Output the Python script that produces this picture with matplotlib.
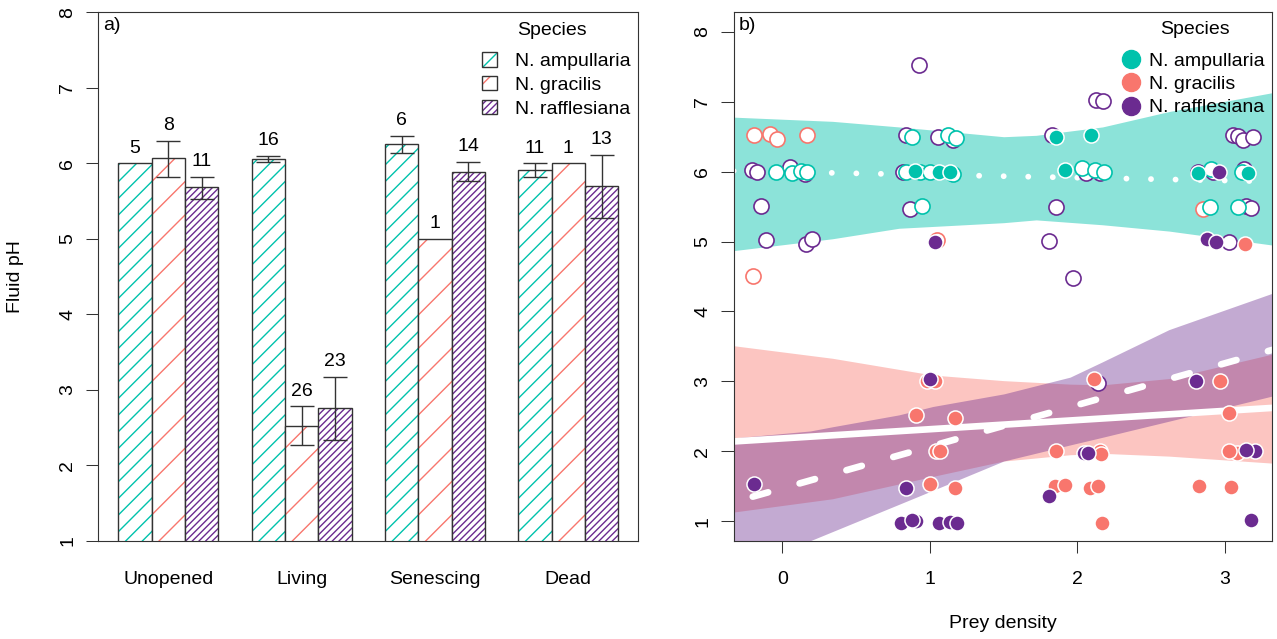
import matplotlib
matplotlib.use('Agg')
import matplotlib.pyplot as plt
from matplotlib.patches import Patch
from matplotlib.lines import Line2D

plt.rcParams['font.family'] = ['Liberation Sans', 'DejaVu Sans']
plt.rcParams['font.size'] = 14
plt.rcParams['hatch.linewidth'] = 1.0

# ---------------- data ----------------
species = ['N. ampullaria', 'N. gracilis', 'N. rafflesiana']
stages = ['Unopened', 'Living', 'Senescing', 'Dead']

# panel a: mean fluid pH per stage, error bar limits (None = no bar), sample sizes
ph_amp = [6.00, 6.06, 6.25, 5.91]
ph_gra = [6.07, 2.52, 5.00, 6.00]
ph_raf = [5.68, 2.76, 5.89, 5.70]
lo_amp = [None, 6.02, 6.14, 5.82]
hi_amp = [None, 6.10, 6.36, 6.00]
lo_gra = [5.82, 2.27, None, None]
hi_gra = [6.30, 2.78, None, None]
lo_raf = [5.53, 2.34, 5.76, 5.28]
hi_raf = [5.82, 3.17, 6.02, 6.11]
n_amp = [5, 16, 6, 11]
n_gra = [8, 26, 1, 1]
n_raf = [11, 23, 14, 13]

# panel b: points (open = non-living pitchers, filled = living pitchers)
amp_open_x = [-0.045, 0.063, 0.129, 0.167, 0.881, 1.122, 1.174, 0.84, 0.93, 0.998, 1.157, 0.946,
              2.033, 2.116, 2.177, 2.907, 3.117, 2.90, 3.087]
amp_open_y = [5.99, 5.98, 6.01, 6.00, 6.49, 6.52, 6.48, 5.99, 6.00, 5.99, 5.97, 5.51,
              6.05, 6.02, 5.99, 6.04, 6.00, 5.50, 5.50]
amp_fill_x = [0.897, 1.062, 1.134, 1.857, 2.094, 1.913, 2.817, 3.155]
amp_fill_y = [6.01, 5.99, 6.00, 6.50, 6.53, 6.02, 5.98, 5.98]

gra_open_x = [-0.194, -0.086, -0.034, 0.167, -0.198, 1.048, 2.85]
gra_open_y = [6.53, 6.54, 6.47, 6.52, 4.51, 5.02, 5.46]
gra_fill_x = [0.983, 1.032, 0.908, 1.168, 1.04, 1.066, 0.998, 1.168,
              2.11, 1.857, 2.15, 2.16, 1.845, 1.913, 2.087, 2.139, 2.168,
              2.963, 3.03, 3.08, 3.03, 2.823, 3.037, 3.132]
gra_fill_y = [3.00, 3.00, 2.52, 2.48, 2.00, 2.00, 1.53, 1.48,
              3.04, 2.01, 2.01, 1.96, 1.50, 1.52, 1.47, 1.50, 0.97,
              3.00, 2.54, 1.98, 2.01, 1.50, 1.49, 4.97]

raf_open_x = [-0.203, -0.171, 0.05, 0.151, -0.144, -0.11, 0.158, 0.199,
              0.926, 0.84, 1.053, 1.157, 0.863, 0.82,
              2.127, 2.172, 1.83, 1.857, 1.807, 1.969, 2.14, 2.06, 2.15,
              3.053, 3.087, 3.12, 3.19, 2.817, 2.92, 3.13, 3.145, 3.178, 3.026]
raf_open_y = [6.03, 5.99, 6.06, 5.96, 5.51, 5.02, 4.97, 5.03,
              7.53, 6.53, 6.49, 6.46, 5.47, 6.00,
              7.03, 7.01, 6.52, 5.49, 5.01, 4.48, 2.97, 5.98, 5.98,
              6.52, 6.51, 6.46, 6.50, 6.00, 5.99, 6.04, 5.51, 5.48, 5.00]
raf_fill_x = [-0.194, 1.0, 0.836, 0.807, 0.904, 0.88, 1.062, 1.134, 1.184, 1.032,
              1.807, 2.044, 2.07, 2.805, 3.2, 3.139, 3.178, 2.959, 2.877, 2.94]
raf_fill_y = [1.53, 3.04, 1.48, 0.98, 1.00, 1.01, 0.98, 0.99, 0.97, 5.00,
              1.36, 1.98, 1.98, 3.00, 2.00, 2.02, 1.02, 5.99, 5.03, 5.00]

# fitted lines and confidence bands
amp_fit_x = [-0.33, 3.32]
amp_fit_y = [6.01, 5.86]
gra_fit_x = [-0.33, 3.32]
gra_fit_y = [2.14, 2.62]
raf_fit_x = [-0.20, 3.32]
raf_fit_y = [1.35, 3.45]

amp_band_x = [-0.33, 0.34, 0.79, 1.5, 1.72, 2.17, 2.62, 3.32]
amp_band_hi = [6.78, 6.72, 6.64, 6.50, 6.52, 6.64, 6.86, 7.13]
amp_band_lo = [4.87, 5.04, 5.19, 5.27, 5.31, 5.24, 5.15, 4.95]
gra_band_x = [-0.33, 0.34, 1.02, 1.5, 1.95, 2.17, 2.62, 3.32]
gra_band_hi = [3.51, 3.33, 3.09, 3.01, 2.96, 2.95, 3.04, 3.39]
gra_band_lo = [1.13, 1.32, 1.64, 1.86, 1.95, 1.97, 1.93, 1.83]
raf_band_x = [-0.33, 0.19, 0.34, 0.79, 1.02, 1.5, 1.95, 2.17, 2.62, 3.32]
raf_band_hi = [2.19, 2.29, 2.35, 2.52, 2.64, 2.82, 3.06, 3.28, 3.74, 4.26]
raf_band_lo = [0.20, 0.72, 0.85, 1.24, 1.44, 1.86, 2.09, 2.20, 2.43, 2.79]

col_amp = '#00C2AC'
col_gra = '#F8766D'
col_raf = '#6B2B90'
dark = '#333333'

W, H = 1277, 639
fig = plt.figure(figsize=(W / 100, H / 100), dpi=100)
ax1 = fig.add_axes([98.3 / W, (H - 540.7) / H, 540 / W, 528.4 / H])
ax2 = fig.add_axes([734 / W, (H - 540.7) / H, 538.3 / W, 528.4 / H])

# ---------------- panel a ----------------
bar_sets = [(ph_amp, lo_amp, hi_amp, n_amp, col_amp, '//'),
            (ph_gra, lo_gra, hi_gra, n_gra, col_gra, '/'),
            (ph_raf, lo_raf, hi_raf, n_raf, col_raf, '/////')]
for k, (vals, lo, hi, n, col, hatch) in enumerate(bar_sets):
    lefts = [1 + 4 * g + k for g in range(len(stages))]
    ax1.bar(lefts, vals, width=1, align='edge', facecolor='white', edgecolor=col,
            linewidth=0, hatch=hatch)
    ax1.bar(lefts, vals, width=1, align='edge', fill=False, edgecolor=dark, linewidth=1)
    for x, v, l, h, c in zip(lefts, vals, lo, hi, n):
        top = v
        if l is not None:
            ax1.errorbar(x + 0.5, v, yerr=[[v - l], [h - v]], fmt='none', ecolor=dark,
                         elinewidth=1, capsize=8.4, capthick=1)
            top = h
        ax1.text(x + 0.5, top + 0.2, str(c), ha='center', va='center')

ax1.set_xlim(0.4, 16.6)
ax1.set_ylim(1, 8)
ax1.set_xticks([2.5 + 4 * g for g in range(len(stages))])
ax1.set_xticklabels(stages)
ax1.tick_params(axis='x', length=0, pad=21.5)
ax1.set_yticks(range(1, 9))
ax1.tick_params(axis='y', length=8.4, width=0.75, color=dark, pad=7.5, labelrotation=90)
for t in ax1.get_yticklabels():
    t.set_va('center')
for s in ax1.spines.values():
    s.set_color(dark)
    s.set_linewidth(0.8)
ax1.text(0.009, 0.975, 'a)', transform=ax1.transAxes, ha='left', va='center')

leg_handles = [(Patch(facecolor='white', edgecolor=c, hatch=h, linewidth=0),
                Patch(fill=False, edgecolor=dark, linewidth=1))
               for c, h in [(col_amp, '//'), (col_gra, '/'), (col_raf, '/////')]]
ax1.legend(leg_handles, species, loc='upper left', bbox_to_anchor=(0.710, 0.925),
           frameon=False, borderpad=0, borderaxespad=0, handlelength=0.78,
           handleheight=0.78, handletextpad=0.94, labelspacing=0.3)
ax1.text(0.840, 0.9665, 'Species', transform=ax1.transAxes, ha='center', va='center')

fig.text(16 / W, 1 - 276.5 / H, 'Fluid pH', rotation=90, ha='center', va='center')

# ---------------- panel b ----------------
ax2.fill_between(amp_band_x, amp_band_lo, amp_band_hi, color=col_amp, alpha=0.45, lw=0)
ax2.fill_between(gra_band_x, gra_band_lo, gra_band_hi, color=col_gra, alpha=0.42, lw=0)
ax2.fill_between(raf_band_x, raf_band_lo, raf_band_hi, color=col_raf, alpha=0.40, lw=0)

ax2.plot(amp_fit_x, amp_fit_y, color='white', lw=4.2, ls=(0, (0.01, 4.2)),
         dash_capstyle='round')
ax2.plot(gra_fit_x, gra_fit_y, color='white', lw=4.8, solid_capstyle='butt')
ax2.plot(raf_fit_x, raf_fit_y, color='white', lw=4.8, ls=(0, (2.4, 4.9)),
         dash_capstyle='round')

ms = 118
ax2.scatter(raf_open_x, raf_open_y, s=ms, facecolor='white', edgecolor=col_raf, lw=1.2, zorder=3)
ax2.scatter(gra_open_x, gra_open_y, s=ms, facecolor='white', edgecolor=col_gra, lw=1.2, zorder=3)
ax2.scatter(amp_open_x, amp_open_y, s=ms, facecolor='white', edgecolor=col_amp, lw=1.2, zorder=3)
ax2.scatter(gra_fill_x, gra_fill_y, s=ms, facecolor=col_gra, edgecolor='white', lw=1.1, zorder=3)
ax2.scatter(raf_fill_x, raf_fill_y, s=ms, facecolor=col_raf, edgecolor='white', lw=1.1, zorder=3)
ax2.scatter(amp_fill_x, amp_fill_y, s=ms, facecolor=col_amp, edgecolor='white', lw=1.1, zorder=3)

ax2.set_xlim(-0.327, 3.32)
ax2.set_ylim(0.72, 8.28)
ax2.set_xticks(range(0, 4))
ax2.set_yticks(range(1, 9))
ax2.tick_params(axis='x', length=8.6, width=0.75, color=dark, pad=13)
ax2.tick_params(axis='y', length=9.2, width=0.75, color=dark, pad=7.2, labelrotation=90)
for t in ax2.get_yticklabels():
    t.set_va('center')
for s in ax2.spines.values():
    s.set_color(dark)
    s.set_linewidth(0.8)
ax2.text(0.0093, 0.975, 'b)', transform=ax2.transAxes, ha='left', va='center')

pt_handles = [Line2D([], [], ls='', marker='o', markersize=13, markerfacecolor=c,
                     markeredgecolor=c) for c in (col_amp, col_gra, col_raf)]
ax2.legend(pt_handles, species, loc='upper left', bbox_to_anchor=(0.7236, 0.925),
           frameon=False, borderpad=0, borderaxespad=0, handlelength=0.8,
           handletextpad=0.5, labelspacing=0.3)
ax2.text(0.8564, 0.968, 'Species', transform=ax2.transAxes, ha='center', va='center')

fig.text(1003 / W, 1 - 624 / H, 'Prey density', ha='center', va='center')

fig.savefig('out.png', dpi=100)
